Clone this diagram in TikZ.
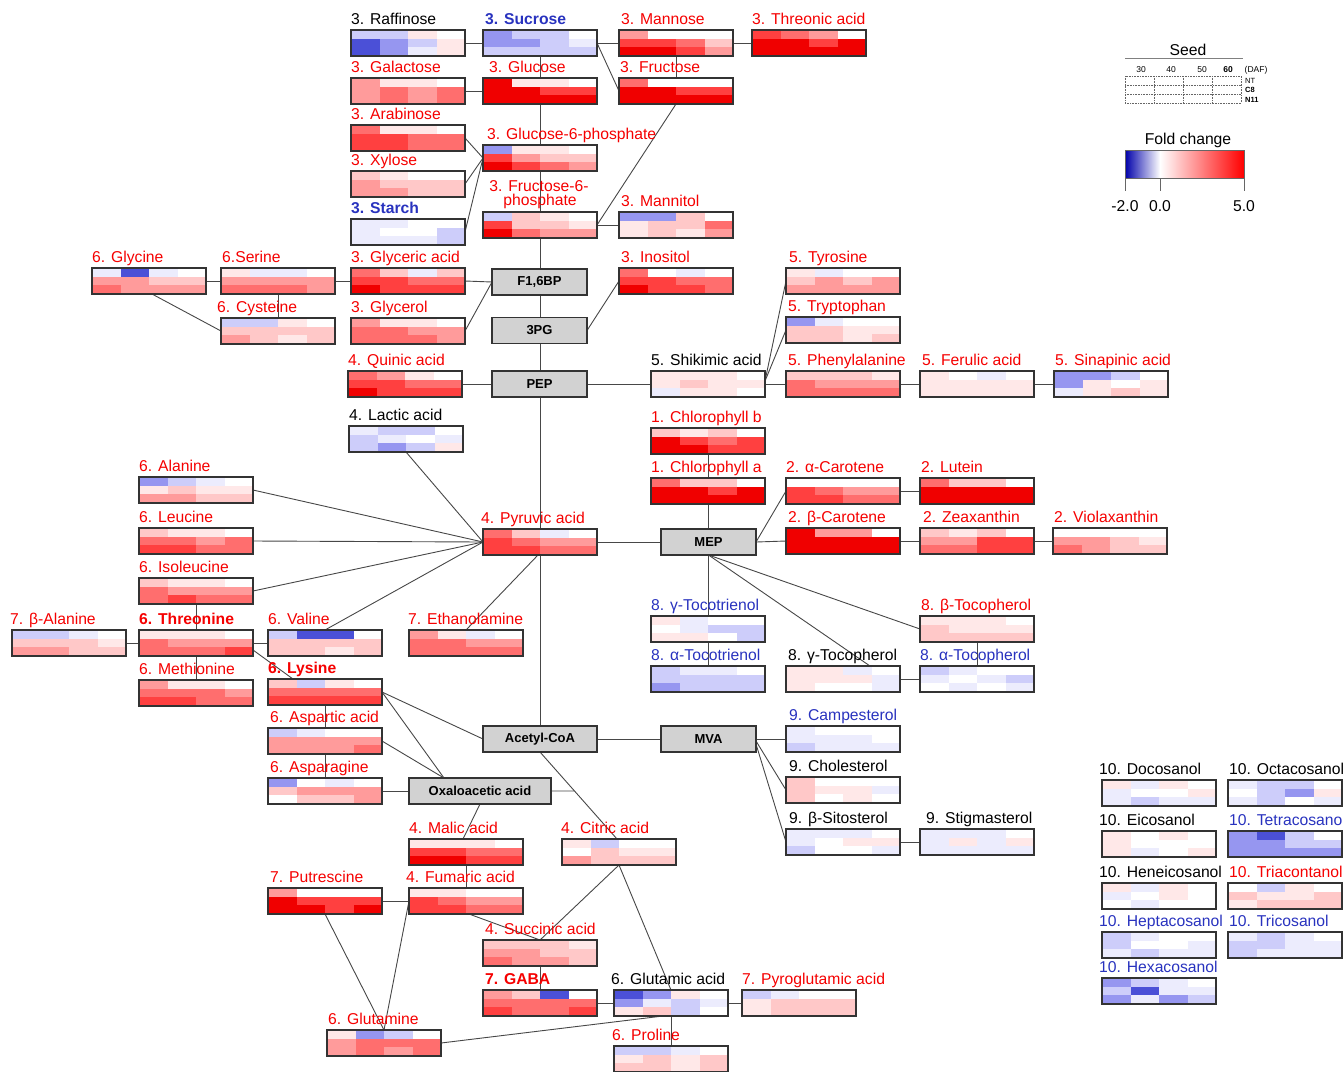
\documentclass[tikz,border=0pt]{standalone}
\usepackage{fontspec}
\setmainfont{Liberation Sans}
\usetikzlibrary{calc}
\pgfdeclarelayer{bg}
\pgfsetlayers{bg,main}
\definecolor{labred}{RGB}{245,0,0}
\definecolor{labblue}{RGB}{40,50,190}
\definecolor{hR}{RGB}{240,0,0}
\definecolor{hr}{RGB}{255,64,64}
\definecolor{hm}{RGB}{255,110,110}
\definecolor{hp}{RGB}{255,155,155}
\definecolor{hl}{RGB}{255,200,200}
\definecolor{hv}{RGB}{255,232,232}
\definecolor{hw}{RGB}{255,255,255}
\definecolor{hi}{RGB}{236,236,253}
\definecolor{hc}{RGB}{205,205,250}
\definecolor{hb}{RGB}{150,150,240}
\definecolor{hB}{RGB}{75,80,215}
\definecolor{legblue}{RGB}{0,0,170}
\newcommand\lblf{\fontsize{15.7}{18}\selectfont}
\newcommand\gboxf{\fontsize{13}{15}\selectfont\bfseries}
\newcommand\tinyf{\fontsize{8.5}{10}\selectfont}
\tikzset{
  hbox/.style={draw=black!80, line width=1.2pt, minimum width=114pt, minimum height=26pt, inner sep=0pt, outer sep=0pt},
  gbox/.style={draw=black!80, line width=1.2pt, fill=gray!35, minimum width=95pt, minimum height=26pt, inner sep=0pt, outer sep=0pt, font=\gboxf},
  lab/.style={inner sep=0pt, anchor=base west, font=\lblf},
  labr/.style={text=labred},
  labb/.style={text=labblue},
  labk/.style={text=black},
  lbold/.style={font=\lblf\bfseries},
  conn/.style={draw=black!72, line width=0.9pt},
}
\newcommand\hmap[6]{%
  \foreach \cc [count=\ii from 0] in {#6}{%
    \pgfmathtruncatemacro\hcol{mod(\ii,4)}%
    \pgfmathtruncatemacro\hrow{int(\ii/4)}%
    \edef\hcolname{h\cc}%
    \fill[fill=\hcolname] ({#2+\hcol*28.5},{#3+\hrow*8.6667}) rectangle ++(28.5,8.6667);%
  }%
  \node[hbox] (#1) at ({#2+57},{#3+13}) {};%
  \node[lab,#4] at ([yshift=6pt]#1.north west) {#5};%
}
\begin{document}
\begin{tikzpicture}[x=1pt,y=-1pt]
\clip (0,0) rectangle (1343,1071);

% ---------- heat maps ----------
\hmap{Raf}{351}{30}{labk}{3. Raffinose}{c,c,v,w,B,b,c,v,B,b,i,v}
\hmap{Suc}{483}{30}{labb,lbold,xshift=2pt}{3. Sucrose}{b,c,c,w,b,b,c,i,c,c,c,c}
\hmap{Man}{619}{30}{labr,xshift=2pt}{3. Mannose}{p,w,w,w,r,r,m,l,R,R,r,p}
\hmap{Thr}{752}{30}{labr}{3. Threonic acid}{r,m,p,w,R,R,r,R,R,R,R,R}
\hmap{Gal}{351}{78}{labr}{3. Galactose}{p,v,v,w,p,m,p,m,p,m,p,m}
\hmap{Glc}{483}{78}{labr,xshift=6pt}{3. Glucose}{R,v,v,w,R,R,r,r,R,R,R,R}
\hmap{Fru}{619}{78}{labr,xshift=1pt}{3. Fructose}{m,w,w,w,R,R,r,r,R,R,R,R}
\hmap{Ara}{351}{125}{labr}{3. Arabinose}{m,v,v,w,r,r,m,m,r,r,m,m}
\hmap{Xyl}{351}{171}{labr}{3. Xylose}{l,v,w,w,p,l,l,l,p,p,l,l}
\hmap{Sta}{351}{219}{labb,lbold}{3. Starch}{i,i,w,w,i,w,w,c,i,i,i,c}
\hmap{G6P}{483}{145}{labr,xshift=4pt}{3. Glucose-6-phosphate}{b,v,v,w,r,p,l,l,R,r,m,p}
\hmap{F6P}{483}{212}{labr}{}{c,l,v,w,r,l,l,v,R,m,p,p}
\node[lab,labr,anchor=base] (F6Pl1) at (539,191) {3. Fructose-6-};
\node[lab,labr,anchor=base] (F6Pl2) at (540,205) {phosphate};
\hmap{Mnt}{619}{212}{labr,xshift=2pt}{3. Mannitol}{b,b,l,w,v,l,l,m,v,l,v,p}
\hmap{Gly}{92}{268}{labr}{6. Glycine}{i,B,i,w,p,p,l,l,m,p,p,p}
\hmap{Ser}{221}{268}{labr,xshift=1pt}{6.Serine}{v,i,i,w,p,p,p,p,m,m,m,p}
\hmap{Gla}{351}{268}{labr}{3. Glyceric acid}{m,l,i,l,r,r,m,m,R,r,r,r}
\hmap{Ino}{619}{268}{labr,xshift=2pt}{3. Inositol}{m,w,i,w,r,r,m,m,R,r,r,m}
\hmap{Tyr}{786}{268}{labr,xshift=3pt}{5. Tyrosine}{v,i,w,w,l,p,l,p,p,p,p,p}
\hmap{Cys}{221}{318}{labr,xshift=-4pt}{6. Cysteine}{c,c,v,w,l,l,l,l,p,l,v,l}
\hmap{Glyc}{351}{318}{labr}{3. Glycerol}{p,v,v,w,m,m,p,p,m,m,m,p}
\hmap{Trp}{786}{317}{labr,xshift=2pt}{5. Tryptophan}{b,i,w,w,l,l,v,v,l,l,v,l}
\hmap{Qui}{348}{371}{labr}{4. Quinic acid}{m,p,v,w,r,r,m,m,R,r,r,r}
\hmap{Shi}{651}{371}{labk}{5. Shikimic acid}{v,v,v,w,v,l,v,v,i,v,v,w}
\hmap{Phe}{786}{371}{labr,xshift=2pt}{5. Phenylalanine}{l,l,l,v,m,p,p,p,m,m,m,m}
\hmap{Fer}{920}{371}{labr,xshift=2pt}{5. Ferulic acid}{v,w,i,w,v,v,v,v,v,v,v,v}
\hmap{Sin}{1054}{371}{labr,xshift=1pt}{5. Sinapinic acid}{b,b,c,w,b,v,w,v,i,v,l,v}
\hmap{Lac}{349}{426}{labk}{4. Lactic acid}{i,c,c,w,c,i,w,i,c,b,c,v}
\hmap{Chlb}{651}{428}{labr}{1. Chlorophyll b}{l,v,l,w,R,r,m,r,R,R,r,r}
\hmap{Ala}{139}{477}{labr}{6. Alanine}{b,c,i,w,v,l,v,v,p,p,l,l}
\hmap{Chla}{651}{478}{labr}{1. Chlorophyll a}{m,l,l,w,R,R,r,R,R,R,R,R}
\hmap{aCar}{786}{478}{labr}{2. α-Carotene}{w,w,w,w,r,m,p,p,r,r,m,m}
\hmap{Lut}{920}{478}{labr,xshift=1pt}{2. Lutein}{m,l,l,w,R,R,R,R,R,R,R,R}
\hmap{Leu}{139}{528}{labr}{6. Leucine}{l,v,v,w,m,m,p,m,r,r,m,m}
\hmap{Pyr}{483}{529}{labr,xshift=-2pt}{4. Pyruvic acid}{m,l,i,w,r,m,p,p,r,r,m,m}
\hmap{bCar}{786}{528}{labr,xshift=2pt}{2. β-Carotene}{R,p,p,w,R,R,R,R,R,R,R,R}
\hmap{Zea}{920}{528}{labr,xshift=3pt}{2. Zeaxanthin}{l,v,l,w,p,p,r,r,m,m,r,r}
\hmap{Vio}{1053}{528}{labr,xshift=1pt}{2. Violaxanthin}{w,w,w,w,p,p,l,v,m,p,l,l}
\hmap{Ile}{139}{578}{labr}{6. Isoleucine}{l,v,v,w,m,p,p,p,m,r,m,m}
\hmap{gTt}{651}{616}{labb}{8. γ-Tocotrienol}{v,i,w,w,w,i,c,c,v,v,w,c}
\hmap{bTph}{920}{616}{labr,xshift=1pt}{8. β-Tocopherol}{v,v,v,w,l,v,v,v,l,l,l,l}
\hmap{bAla}{12}{630}{labr,xshift=-2pt}{7. β-Alanine}{c,c,i,w,l,l,l,v,p,p,l,l}
\hmap{Thre}{139}{630}{labr,lbold}{6. Threonine}{v,v,v,w,m,p,p,p,m,m,m,r}
\hmap{Val}{268}{630}{labr}{6. Valine}{c,B,B,w,l,l,l,l,l,l,v,l}
\hmap{Eth}{409}{630}{labr,xshift=-1pt}{7. Ethanolamine}{p,v,i,w,m,m,p,p,m,m,m,m}
\hmap{aTt}{651}{666}{labb}{8. α-Tocotrienol}{c,i,i,w,c,c,c,c,b,c,c,c}
\hmap{gTph}{786}{666}{labk,xshift=2pt}{8. γ-Tocopherol}{v,v,i,w,v,v,v,i,v,w,w,i}
\hmap{aTph}{920}{666}{labb}{8. α-Tocopherol}{c,i,w,w,i,w,i,c,w,i,w,i}
\hmap{Met}{139}{680}{labr}{6. Methionine}{p,v,v,w,m,m,m,p,r,r,m,m}
\hmap{Lys}{268}{679}{labr,lbold}{6. Lysine}{l,c,v,w,m,m,m,m,r,r,r,r}
\hmap{Camp}{786}{726}{labb,xshift=3pt}{9. Campesterol}{i,w,w,w,i,i,i,w,c,i,i,i}
\hmap{Asp}{268}{728}{labr,xshift=2pt}{6. Aspartic acid}{c,i,w,w,p,p,p,p,p,p,p,m}
\hmap{Chol}{786}{777}{labk,xshift=3pt}{9. Cholesterol}{l,w,w,w,l,v,v,i,l,w,v,w}
\hmap{Asn}{268}{778}{labr,xshift=2pt}{6. Asparagine}{b,w,i,w,l,p,p,p,w,l,l,p}
\hmap{Sito}{786}{829}{labk,xshift=3pt}{9. β-Sitosterol}{i,i,i,w,i,w,v,v,c,w,w,i}
\hmap{Stig}{920}{829}{labk,xshift=6pt}{9. Stigmasterol}{i,i,i,w,i,v,i,v,i,i,i,i}
\hmap{Mal}{409}{839}{labr}{4. Malic acid}{v,v,v,w,r,r,m,m,R,R,r,r}
\hmap{Cit}{562}{839}{labr,xshift=-1pt}{4. Citric acid}{v,c,w,w,w,l,v,v,p,l,l,l}
\hmap{Put}{268}{888}{labr,xshift=2pt}{7. Putrescine}{p,w,w,w,R,r,r,r,R,R,r,R}
\hmap{Fum}{409}{888}{labr,xshift=-3pt}{4. Fumaric acid}{v,v,w,w,r,m,p,p,r,r,m,m}
\hmap{Succ}{483}{940}{labr,xshift=2pt}{4. Succinic acid}{l,l,l,v,p,p,l,l,m,p,p,l}
\hmap{GABA}{483}{990}{labr,lbold,xshift=2pt}{7. GABA}{p,l,B,w,m,m,m,m,r,m,m,r}
\hmap{Glu}{614}{990}{labk,xshift=-3pt}{6. Glutamic acid}{B,b,v,w,b,i,c,i,v,l,c,w}
\hmap{Pyro}{742}{990}{labr}{7. Pyroglutamic acid}{c,i,w,w,v,l,l,l,v,l,l,l}
\hmap{Gln}{327}{1030}{labr,xshift=1pt}{6. Glutamine}{v,b,c,w,p,m,m,m,p,m,p,m}
\hmap{Pro}{614}{1046}{labr,xshift=-2pt}{6. Proline}{c,c,i,w,v,l,v,l,l,l,v,l}
\hmap{Doc}{1102}{780}{labk,xshift=-3pt}{10. Docosanol}{v,i,v,w,i,w,w,v,i,c,i,i}
\hmap{Oct}{1228}{780}{labk,xshift=1pt}{10. Octacosanol}{i,c,c,w,w,c,b,v,i,c,w,i}
\hmap{Eic}{1102}{831}{labk,xshift=-3pt}{10. Eicosanol}{v,w,v,w,v,w,w,w,v,i,w,v}
\hmap{Tet}{1228}{831}{labb,xshift=1pt}{10. Tetracosanol}{b,B,c,w,b,b,c,c,b,b,b,b}
\hmap{Hen}{1102}{883}{labk,xshift=-3pt}{10. Heneicosanol}{v,i,v,w,i,w,v,w,w,i,w,w}
\hmap{Tri}{1228}{883}{labr,xshift=1pt}{10. Triacontanol}{w,c,v,w,l,v,v,l,v,l,l,l}
\hmap{Hep}{1102}{932}{labb,xshift=-3pt}{10. Heptacosanol}{c,i,w,w,c,w,w,i,i,c,i,i}
\hmap{Trc}{1228}{932}{labb,xshift=1pt}{10. Tricosanol}{i,c,i,w,c,c,i,i,c,i,i,i}
\hmap{Hex}{1102}{978}{labb,xshift=-3pt}{10. Hexacosanol}{b,c,i,w,c,B,i,i,b,i,b,c}

% ---------- gray pathway boxes ----------
\node[gbox] (F16) at (539.5,282) {F1,6BP};
\node[gbox] (PGt) at (539.5,330.5) {3PG};
\node[gbox] (PEP) at (539.5,384) {PEP};
\node[gbox] (MEP) at (708.5,542) {MEP};
\node[gbox, minimum width=114pt] (Acet) at (540,739) {Acetyl-CoA};
\node[gbox] (MVA) at (708.5,739) {MVA};
\node[gbox, minimum width=142pt] (Oxa) at (480,791) {Oxaloacetic acid};

% ---------- connectors ----------
\begin{pgfonlayer}{bg}
\draw[conn] (Suc.south) -- (Acet.north);
\draw[conn] (Raf.east) -- (Suc.west);
\draw[conn] (Suc.east) -- (Man.west);
\draw[conn] (Man.east) -- (Thr.west);
\draw[conn] (Suc.east) -- (Fru.west);
\draw[conn] (Gal.east) -- (Glc.west);
\draw[conn] (Man.south) -- (Fru.north);
\draw[conn] (Fru.south) -- (F6P.east);
\draw[conn] (F6P.east) -- (Mnt.west);
\draw[conn] (Ara.east) -- (G6P.west);
\draw[conn] (Xyl.east) -- (G6P.west);
\draw[conn] (Sta.east) -- (G6P.west);
\draw[conn] (Gla.east) -- (F16.west);
\draw[conn] (Glyc.east) -- (F16.west);
\draw[conn] (Gly.east) -- (Ser.west);
\draw[conn] (Ser.east) -- (Gla.west);
\draw[conn] (Ser.south) -- (Cys.north);
\draw[conn] ([xshift=3pt]Gly.south) -- (Cys.west);
\draw[conn] (PGt.east) -- (Ino.west);
\draw[conn] (Qui.east) -- (PEP.west);
\draw[conn] (PEP.east) -- (Shi.west);
\draw[conn] (Shi.east) -- (Phe.west);
\draw[conn] ([yshift=3pt]Shi.east) -- (Tyr.west);
\draw[conn] ([yshift=3pt]Shi.east) -- (Trp.west);
\draw[conn] (Phe.east) -- (Fer.west);
\draw[conn] (Fer.east) -- (Sin.west);
\draw[conn] (Lac.south) -- (Pyr.west);
\draw[conn] (Ala.east) -- (Pyr.west);
\draw[conn] (Leu.east) -- (Pyr.west);
\draw[conn] (Ile.east) -- (Pyr.west);
\draw[conn] (Val.north) -- (Pyr.west);
\draw[conn] (Eth.north) -- ([xshift=-2pt]Pyr.south);
\draw[conn] (Pyr.east) -- (MEP.west);
\draw[conn] (Chlb.south) -- (aTt.north);
\draw[conn] (MEP.east) -- (aCar.west);
\draw[conn] (MEP.east) -- (bCar.west);
\draw[conn] (aCar.east) -- (Lut.west);
\draw[conn] (bCar.east) -- (Zea.west);
\draw[conn] (Zea.east) -- (Vio.west);
\draw[conn] (MEP.south) -- ([xshift=27pt]gTph.north);
\draw[conn] (MEP.south) -- (bTph.west);
\draw[conn] (bTph.south) -- (aTph.north);
\draw[conn] (gTph.east) -- (aTph.west);
\draw[conn] (Acet.east) -- (MVA.west);
\draw[conn] (MVA.east) -- (Camp.west);
\draw[conn] ([yshift=-2pt]MVA.east) -- (Chol.west);
\draw[conn] ([yshift=-5pt]MVA.east) -- (Sito.west);
\draw[conn] (Sito.east) -- (Stig.west);
\draw[conn] (Ile.south) -- (Met.north);
\draw[conn] (bAla.east) -- (Thre.west);
\draw[conn] (Thre.east) -- (Val.west);
\draw[conn] ([yshift=-7pt]Thre.east) -- ([xshift=-32pt]Lys.north);
\draw[conn] (Lys.south) -- (Asn.north);
\draw[conn] (Lys.east) -- (Acet.west);
\draw[conn] (Lys.east) -- ([xshift=-36pt]Oxa.north);
\draw[conn] (Asp.east) -- ([xshift=-36pt]Oxa.north);
\draw[conn] (Asn.east) -- (Oxa.west);
\draw[conn] (Acet.south) -- ([xshift=-2pt]Cit.north);
\coordinate (oxj) at ($(Acet.south)!0.448!([xshift=-2pt]Cit.north)$);
\draw[conn] (Oxa.east) -- (oxj);
\draw[conn] (Oxa.south) -- ([xshift=-3pt]Mal.north);
\draw[conn] (Mal.south) -- (Fum.north);
\draw[conn] (Put.east) -- (Fum.west);
\draw[conn] ([xshift=3pt]Fum.south) -- (Succ.north);
\draw[conn] (Cit.south) -- (Succ.north);
\draw[conn] (Cit.south) -- (Glu.north);
\draw[conn] (Succ.south) -- (GABA.north);
\draw[conn] (GABA.east) -- (Glu.west);
\draw[conn] (Glu.east) -- (Pyro.west);
\draw[conn] (Glu.south) -- (Pro.north);
\draw[conn] (Gln.east) -- ([xshift=-8pt]Glu.south);
\draw[conn] (Put.south) -- (Gln.north);
\draw[conn] (Fum.west) -- (Gln.north);
\end{pgfonlayer}

% ---------- legend ----------
\node[font=\lblf, anchor=base] (seed) at (1188,55) {Seed};
\draw[gray, line width=0.8pt] (1125,58) -- (1243,58);
\node[font=\tinyf, anchor=base] (d30) at (1141,72) {30};
\node[font=\tinyf, anchor=base] (d40) at (1171,72) {40};
\node[font=\tinyf, anchor=base] (d50) at (1202,72) {50};
\node[font=\tinyf\bfseries, anchor=base] (d60) at (1228,72) {60};
\node[font=\tinyf, anchor=base] (daf) at (1256,72) {(DAF)};
\draw[densely dotted, black!60, line width=0.6pt] (1125,76) rectangle (1241,103);
\foreach \xx in {1154,1183,1212} \draw[densely dotted, black!60, line width=0.6pt] (\xx,76) -- (\xx,103);
\foreach \yy in {85,94} \draw[densely dotted, black!60, line width=0.6pt] (1125,\yy) -- (1241,\yy);
\node[font=\fontsize{7.5}{8}\selectfont, anchor=base west, inner sep=0pt] (nt) at (1245,83) {NT};
\node[font=\fontsize{7.5}{8}\selectfont\bfseries, anchor=base west, inner sep=0pt] (c8) at (1245,92) {C8};
\node[font=\fontsize{7.5}{8}\selectfont\bfseries, anchor=base west, inner sep=0pt] (n11) at (1245,102) {N11};

\node[font=\lblf, anchor=base] (fc) at (1188,144) {Fold change};
\shade[left color=legblue, right color=white] (1125,150) rectangle (1160,178);
\shade[left color=white, right color=red] (1160,150) rectangle (1244,178);
\draw[black!60, line width=0.8pt] (1125,150) rectangle (1244,178);
\foreach \xx in {1125,1160,1244} \draw[black!60, line width=0.8pt] (\xx,178) -- (\xx,191);
\node[font=\lblf, anchor=base] (m2) at (1125,211) {-2.0};
\node[font=\lblf, anchor=base] (z0) at (1160,211) {0.0};
\node[font=\lblf, anchor=base] (p5) at (1244,211) {5.0};
\end{tikzpicture}
\end{document}
